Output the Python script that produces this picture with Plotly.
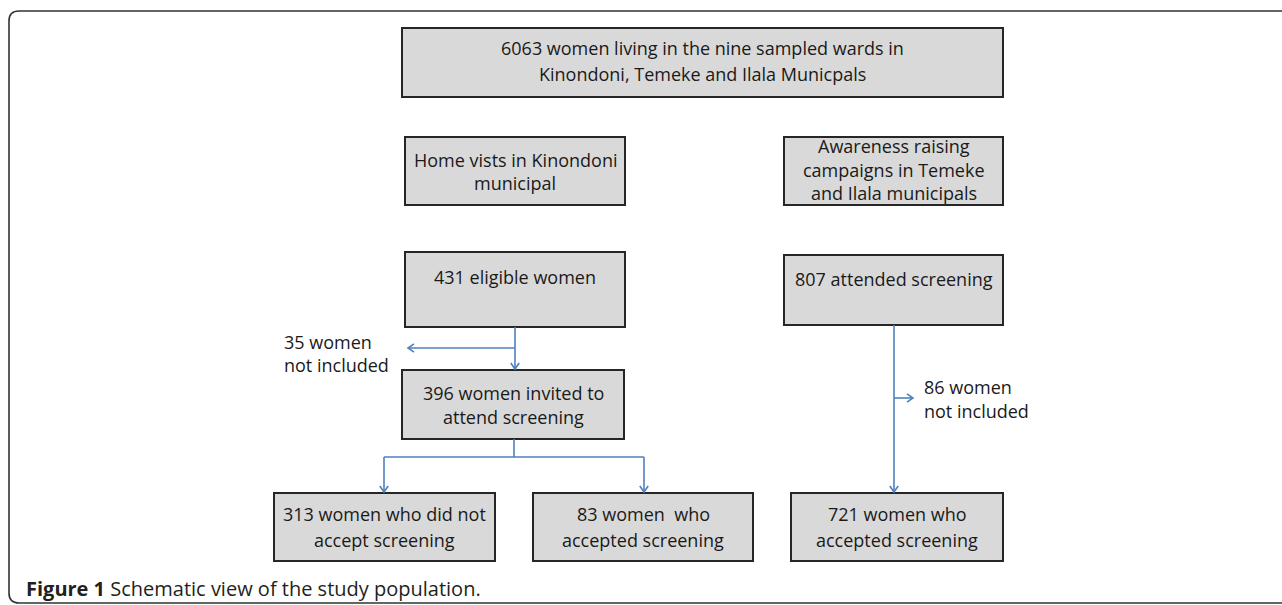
import plotly.graph_objects as go

# ---- content (data) ----
box_labels = [
    "6063 women living in the nine sampled wards in<br>Kinondoni, Temeke and Ilala Municpals",
    "Home vists in Kinondoni<br>municipal",
    "Awareness raising<br>campaigns in Temeke<br>and Ilala municipals",
    "431 eligible women",
    "807 attended screening",
    "396 women invited to<br>attend screening",
    "313 women who did not<br>accept screening",
    "83 women  who<br>accepted screening",
    "721 women who<br>accepted screening",
]
side_labels = ["35 women<br>not included", "86 women<br>not included"]
caption_bold = "Figure 1"
caption_text = " Schematic view of the study population."

# ---- geometry (layout, in pixels) ----
box_rects = [
    (402, 28, 1003, 97),
    (405, 137, 625, 205),
    (784, 137, 1003, 205),
    (405, 252, 625, 327),
    (784, 255, 1003, 325),
    (402, 370, 624, 439),
    (274, 493, 495, 561),
    (533, 493, 753, 561),
    (791, 493, 1003, 561),
]
text_first_y = [48, 160, 146, 277, 279, 393, 514, 514, 514]
line_gap = [26, 23, 23.5, 24, 24, 24, 26, 26, 26]
side_pos = [(282, 342), (922, 387)]
side_gap = [23, 24]

W, H = 1282, 605
BLUE = "#4F81BD"
FONT = "Open Sans"
TXT = "#1a1a1a"

fig = go.Figure()
shapes = []
annotations = []

# outer rounded frame (extends off the right edge)
r = 10
x0, y0, x1, y1 = 9, 11, 1300, 603
shapes.append(dict(
    type="path",
    path=f"M {x0+r},{y0} L {x1},{y0} L {x1},{y1} L {x0+r},{y1} Q {x0},{y1} {x0},{y1-r} L {x0},{y0+r} Q {x0},{y0} {x0+r},{y0} Z",
    xref="x", yref="y", line=dict(color="#333333", width=1.6), fillcolor="rgba(0,0,0,0)", layer="below"))

# boxes + texts
for lab, (a, b, c, d), fy, g in zip(box_labels, box_rects, text_first_y, line_gap):
    shapes.append(dict(type="rect", x0=a, y0=b, x1=c, y1=d, xref="x", yref="y",
                       line=dict(color="#262626", width=2), fillcolor="#D9D9D9"))
    cx = (a + c) / 2
    for i, line in enumerate(lab.split("<br>")):
        annotations.append(dict(x=cx, y=fy + i * g, xref="x", yref="y", text=line,
                                showarrow=False, xanchor="center", yanchor="middle",
                                font=dict(family=FONT, size=18, color=TXT)))

# side labels
for lab, (sx, sy), g in zip(side_labels, side_pos, side_gap):
    for i, line in enumerate(lab.split("<br>")):
        annotations.append(dict(x=sx, y=sy + i * g, xref="x", yref="y", text=line,
                                showarrow=False, xanchor="left", yanchor="middle",
                                font=dict(family=FONT, size=18, color=TXT)))

# connectors
def seg(xa, ya, xb, yb):
    shapes.append(dict(type="line", x0=xa, y0=ya, x1=xb, y1=yb, xref="x", yref="y",
                       line=dict(color=BLUE, width=1.6)))

def head(x, y, direction, s=6):
    if direction == "down":
        p = f"M {x-s*0.7},{y-s} L {x},{y} L {x+s*0.7},{y-s}"
    elif direction == "left":
        p = f"M {x+s},{y-s*0.7} L {x},{y} L {x+s},{y+s*0.7}"
    else:
        p = f"M {x-s},{y-s*0.7} L {x},{y} L {x-s},{y+s*0.7}"
    shapes.append(dict(type="path", path=p, xref="x", yref="y",
                       line=dict(color=BLUE, width=1.6)))

# 431 -> 396, branch to left
seg(515, 327, 515, 369); head(515, 369, "down")
seg(515, 348, 408, 348); head(408, 348, "left")
# 396 -> 313 / 83
seg(514, 439, 514, 457)
seg(384, 457, 644, 457)
seg(384, 457, 384, 492); head(384, 492, "down")
seg(644, 457, 644, 492); head(644, 492, "down")
# 807 -> 721, branch right
seg(894, 325, 894, 492); head(894, 492, "down")
seg(894, 398, 913, 398); head(913, 398, "right")

# caption
annotations.append(dict(x=24, y=588, xref="x", yref="y",
                        text=f"<b>{caption_bold}</b>{caption_text}", showarrow=False,
                        xanchor="left", yanchor="middle",
                        font=dict(family=FONT, size=20, color="#231F20")))

fig.update_layout(
    width=W, height=H, margin=dict(l=0, r=0, t=0, b=0),
    paper_bgcolor="white", plot_bgcolor="white",
    xaxis=dict(range=[0, W], visible=False, fixedrange=True),
    yaxis=dict(range=[H, 0], visible=False, fixedrange=True),
    shapes=shapes, annotations=annotations, showlegend=False,
)
fig.write_html("out.html", config={"displayModeBar": False},
               post_script="document.body.style.margin='0';document.body.style.overflow='hidden';")
